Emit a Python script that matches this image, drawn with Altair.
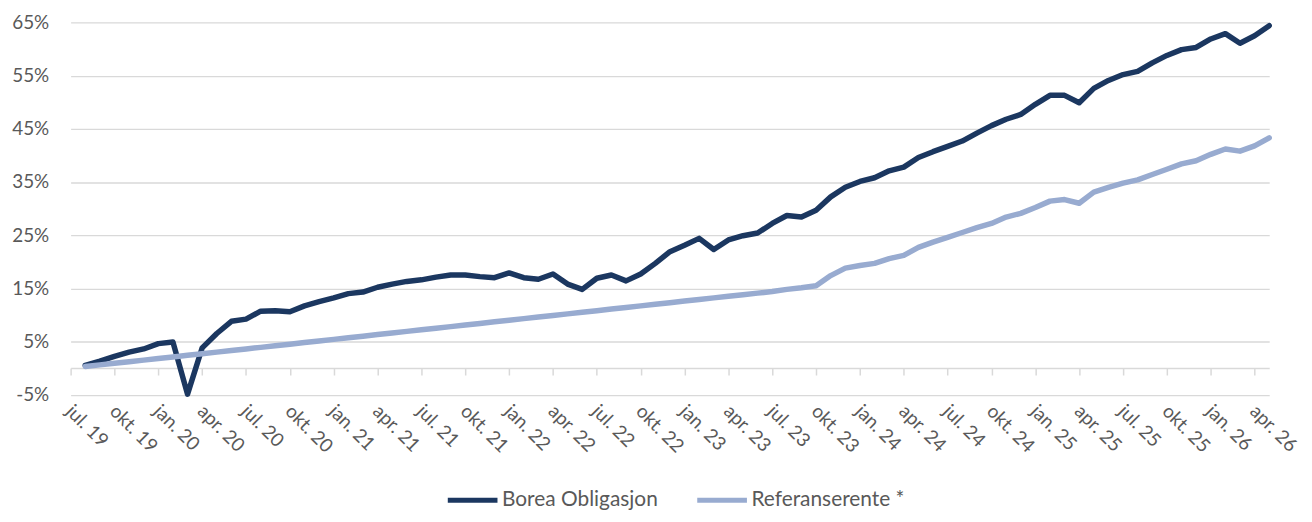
import altair as alt
import pandas as pd

# Month index 0 = first observation (jul. 19), one point per month
borea = [
    0.5, 1.3, 2.2, 3.0, 3.6, 4.6, 4.9, -4.9, 3.8, 6.5,
    8.8, 9.2, 10.7, 10.8, 10.6, 11.7, 12.5, 13.2, 14.0, 14.3,
    15.2, 15.8, 16.3, 16.6, 17.1, 17.5, 17.5, 17.2, 17.0, 17.9,
    17.0, 16.7, 17.7, 15.8, 14.8, 16.9, 17.5, 16.4, 17.7, 19.7,
    21.9, 23.1, 24.4, 22.3, 24.1, 24.9, 25.4, 27.2, 28.7, 28.4,
    29.7, 32.2, 34.0, 35.1, 35.8, 37.1, 37.8, 39.6, 40.7, 41.7,
    42.7, 44.2, 45.6, 46.8, 47.7, 49.6, 51.3, 51.3, 49.9, 52.6,
    54.1, 55.2, 55.8, 57.4, 58.8, 59.9, 60.3, 61.9, 62.9, 61.1,
    62.5, 64.4,
]
referanse = [
    0.3, 0.6, 0.9, 1.2, 1.5, 1.8, 2.1, 2.4, 2.7, 3.0,
    3.3, 3.6, 3.9, 4.2, 4.5, 4.8, 5.1, 5.4, 5.7, 6.0,
    6.3, 6.6, 6.9, 7.2, 7.5, 7.8, 8.1, 8.4, 8.7, 9.0,
    9.3, 9.6, 9.9, 10.2, 10.5, 10.8, 11.1, 11.4, 11.7, 12.0,
    12.3, 12.6, 12.9, 13.2, 13.5, 13.8, 14.1, 14.4, 14.8, 15.1,
    15.5, 17.4, 18.8, 19.3, 19.7, 20.6, 21.2, 22.7, 23.7, 24.6,
    25.5, 26.4, 27.2, 28.4, 29.1, 30.2, 31.4, 31.7, 31.0, 33.1,
    34.0, 34.8, 35.4, 36.4, 37.4, 38.4, 39.0, 40.2, 41.2, 40.8,
    41.8, 43.3,
]
tick_labels = [
    "jul. 19", "okt. 19", "jan. 20", "apr. 20", "jul. 20", "okt. 20",
    "jan. 21", "apr. 21", "jul. 21", "okt. 21", "jan. 22", "apr. 22",
    "jul. 22", "okt. 22", "jan. 23", "apr. 23", "jul. 23", "okt. 23",
    "jan. 24", "apr. 24", "jul. 24", "okt. 24", "jan. 25", "apr. 25",
    "jul. 25", "okt. 25", "jan. 26", "apr. 26",
]
y_ticks = [-5, 5, 15, 25, 35, 45, 55, 65]
series_names = ["Borea Obligasjon", "Referanserente *"]
colors = ["#1b3760", "#98abd0"]

rows = []
for i, v in enumerate(borea):
    rows.append({"m": i, "serie": series_names[0], "v": v})
for i, v in enumerate(referanse):
    rows.append({"m": i, "serie": series_names[1], "v": v})
df = pd.DataFrame(rows)

tick_vals = [-1 + 3 * k for k in range(len(tick_labels))]
label_arr = "[" + ",".join("'" + t + "'" for t in tick_labels) + "]"

FONT = "Lato"
GREY = "#595959"

chart = alt.Chart(df).mark_line(strokeWidth=5.5, strokeJoin="round", strokeCap="round").encode(
    x=alt.X(
        "m:Q",
        scale=alt.Scale(domain=[-1, 81], nice=False, zero=False),
        axis=alt.Axis(
            values=tick_vals,
            labelExpr=label_arr + "[round((datum.value + 1) / 3)]",
            title=None,
            grid=False,
            offset=-26.8,
            domainColor="#d9d9d9",
            domainWidth=1.5,
            tickColor="#d9d9d9",
            tickWidth=1.5,
            tickSize=7,
            labelAngle=45,
            labelAlign="left",
            labelBaseline="middle",
            labelPadding=33,
            labelOffset=-2,
            labelFont=FONT,
            labelFontSize=19,
            labelColor=GREY,
            labelOverlap=False,
            labelFlush=False,
        ),
    ),
    y=alt.Y(
        "v:Q",
        scale=alt.Scale(domain=[-5, 65], nice=False, zero=False),
        axis=alt.Axis(
            values=y_ticks,
            labelExpr="datum.value + '%'",
            title=None,
            domain=False,
            ticks=False,
            grid=True,
            gridColor="#d9d9d9",
            gridWidth=1.3,
            labelPadding=22,
            labelFont=FONT,
            labelFontSize=19,
            labelColor=GREY,
        ),
    ),
    color=alt.Color(
        "serie:N",
        scale=alt.Scale(domain=series_names, range=colors),
        legend=alt.Legend(
            title=None,
            orient="none",
            legendX=377,
            legendY=453,
            direction="horizontal",
            symbolType="stroke",
            symbolSize=2500,
            symbolStrokeWidth=5,
            labelFont=FONT,
            labelFontSize=21,
            labelColor=GREY,
            labelOffset=2,
            columnPadding=29,
        ),
    ),
).properties(
    width=1206,
    height=374.5,
    padding={"left": 63, "top": 13, "right": 35, "bottom": 118},
    autosize=alt.AutoSizeParams(type="none"),
).configure_view(stroke=None)

chart.save("out.html", embed_options={"renderer": "svg", "actions": False})
